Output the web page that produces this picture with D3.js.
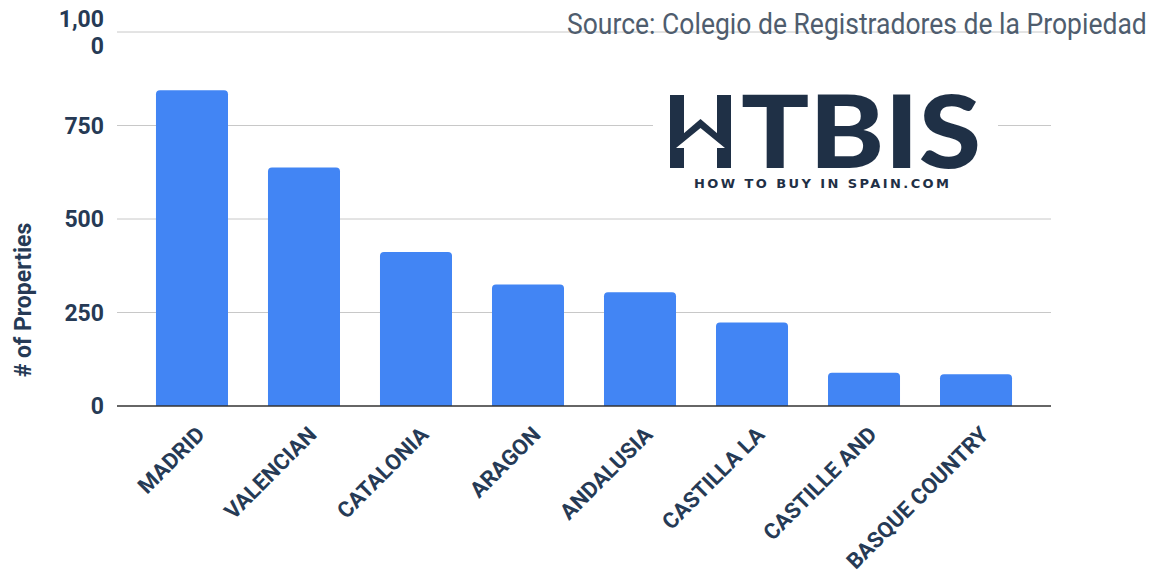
<!DOCTYPE html>
<html>
<head>
<meta charset="utf-8">
<script src="https://cdn.jsdelivr.net/npm/d3@7"></script>
<style>
  html, body { margin: 0; padding: 0; background: #ffffff; }
  svg { display: block; }
</style>
</head>
<body>
<div id="chart"></div>
<script>
// ---- data ----
const categories = ["MADRID", "VALENCIAN", "CATALONIA", "ARAGON", "ANDALUSIA", "CASTILLA LA", "CASTILLE AND", "BASQUE COUNTRY"];
const propertyCounts = [844, 638, 412, 325, 304, 223, 89, 85];
const yTickValues = [0, 250, 500, 750, 1000];
const yTickLabels = ["0", "250", "500", "750", "1,000"];
const yAxisTitle = "# of Properties";
const sourceText = "Source: Colegio de Registradores de la Propiedad";
const logoLetters = "TBIS";
const logoTagline = "HOW TO BUY IN SPAIN.COM";

// ---- layout ----
const W = 1160, H = 576;
const plot = { left: 117, right: 1051, top: 32, bottom: 406 };
const barColor = "#4285f4";
const textColor = "#263a55";
const logoColor = "#1f3046";

const svg = d3.select("#chart").append("svg")
  .attr("width", W).attr("height", H)
  .style("font-family", "Roboto, 'Noto Sans', sans-serif");

svg.append("rect").attr("width", W).attr("height", H).attr("fill", "#fff");

const x = d3.scaleBand()
  .domain(categories)
  .range([plot.left, plot.right])
  .paddingInner(0.357)
  .paddingOuter(0.348);

const y = d3.scaleLinear().domain([0, 1000]).range([plot.bottom, plot.top]);

// gridlines
svg.append("g").selectAll("line")
  .data(yTickValues.filter(v => v > 0))
  .join("line")
  .attr("x1", plot.left).attr("x2", plot.right)
  .attr("y1", d => y(d)).attr("y2", d => y(d))
  .attr("stroke", "#c8c8c8").attr("stroke-width", 1);

// y tick labels (with wrap of long label like the original)
const yt = svg.append("g").selectAll("text")
  .data(yTickValues)
  .join("text")
  .attr("x", 104)
  .attr("y", d => y(d))
  .attr("text-anchor", "end")
  .attr("font-size", 23)
  .attr("font-weight", 700)
  .attr("fill", textColor);
yt.each(function(d, i) {
  const lbl = yTickLabels[i];
  const t = d3.select(this);
  if (lbl.length > 4) {
    t.append("tspan").attr("x", 104).attr("dy", "-0.2em").text(lbl.slice(0, 4));
    t.append("tspan").attr("x", 104).attr("dy", "1.15em").text(lbl.slice(4));
  } else {
    t.append("tspan").attr("dy", "0.35em").text(lbl);
  }
});

// bars with rounded top corners
function barPath(x0, y0, w, h, r) {
  r = Math.min(r, h, w / 2);
  return `M${x0},${y0 + h} L${x0},${y0 + r} Q${x0},${y0} ${x0 + r},${y0} L${x0 + w - r},${y0} Q${x0 + w},${y0} ${x0 + w},${y0 + r} L${x0 + w},${y0 + h} Z`;
}
svg.append("g").selectAll("path")
  .data(categories)
  .join("path")
  .attr("d", (c, i) => barPath(x(c), y(propertyCounts[i]), x.bandwidth(), y(0) - y(propertyCounts[i]), 4))
  .attr("fill", barColor);

// baseline axis
svg.append("line")
  .attr("x1", plot.left).attr("x2", plot.right)
  .attr("y1", y(0)).attr("y2", y(0))
  .attr("stroke", "#333").attr("stroke-width", 1.5);

// category labels
svg.append("g").selectAll("text")
  .data(categories)
  .join("text")
  .attr("transform", c => `translate(${x(c) + x.bandwidth() / 2 + 14},${y(0) + 30}) rotate(-45)`)
  .attr("text-anchor", "end")
  .attr("font-size", 22)
  .attr("font-weight", 700)
  .attr("fill", textColor)
  .text(c => c);

// y axis title
svg.append("text")
  .attr("transform", "translate(31,300) rotate(-90)")
  .attr("text-anchor", "middle")
  .attr("font-size", 23)
  .attr("font-weight", 700)
  .attr("fill", textColor)
  .text(yAxisTitle);

// source text (horizontally condensed to the original's width)
const src = svg.append("text")
  .attr("font-size", 30)
  .attr("fill", "#4f5d6e")
  .text(sourceText);
const natural = src.node().getComputedTextLength();
src.attr("transform", `translate(567,34) scale(${580 / natural},1)`);

// logo
const logo = svg.append("g");
logo.append("rect").attr("x", 653).attr("y", 86).attr("width", 345).attr("height", 108).attr("fill", "#fff");
// H with house
logo.append("rect").attr("x", 670).attr("y", 95).attr("width", 14).attr("height", 73).attr("fill", logoColor);
logo.append("rect").attr("x", 717).attr("y", 95).attr("width", 14).attr("height", 73).attr("fill", logoColor);
logo.append("path")
  .attr("d", "M683,134 L700.5,119 L718,134 L718,146 L683,146 Z")
  .attr("fill", logoColor);
logo.append("path")
  .attr("d", "M676,148 L700.5,128 L725,148 L715,148 L715,168 L686,168 L686,148 Z")
  .attr("fill", "#fff");
const logoText = logo.append("text")
  .attr("fill", logoColor);
logoText.append("tspan")
  .attr("x", 741).attr("y", 168)
  .attr("font-family", "Lato, 'DejaVu Sans', sans-serif")
  .attr("font-size", 101)
  .attr("font-weight", 900)
  .attr("textLength", 240)
  .attr("lengthAdjust", "spacingAndGlyphs")
  .text(logoLetters);
logoText.append("tspan")
  .attr("x", 694).attr("y", 188)
  .attr("font-family", "'DejaVu Sans', sans-serif")
  .attr("font-size", 13)
  .attr("font-weight", 700)
  .attr("textLength", 255)
  .attr("lengthAdjust", "spacing")
  .text(logoTagline);
</script>
</body>
</html>
